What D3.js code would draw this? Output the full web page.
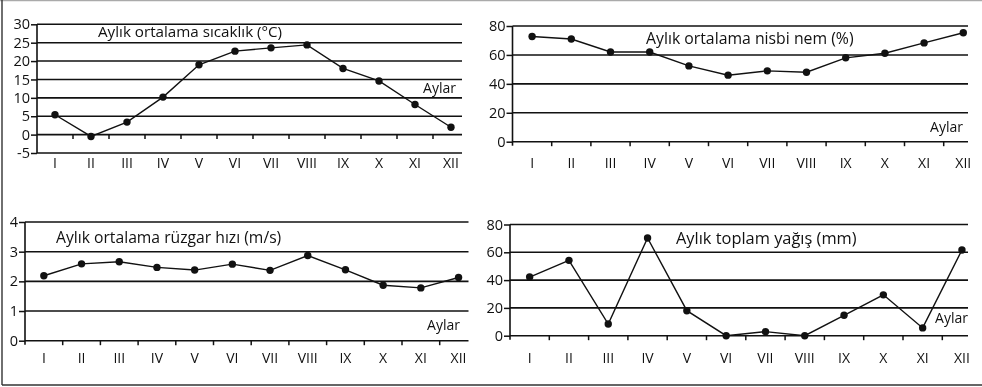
<!DOCTYPE html>
<html>
<head>
<meta charset="utf-8">
<script src="https://cdn.jsdelivr.net/npm/d3@7"></script>
<style>
  body { margin: 0; background: #fff; }
  svg { will-change: transform; }
  svg text { font-family: "Open Sans", "Noto Sans", sans-serif; fill: #111; }
</style>
</head>
<body>
<div id="chart"></div>
<script>
/* data */
var months = ["I", "II", "III", "IV", "V", "VI", "VII", "VIII", "IX", "X", "XI", "XII"];

var sicaklik = [5.4, -0.5, 3.4, 10.2, 19, 22.7, 23.6, 24.4, 18, 14.6, 8.2, 2.0];
var nem = [72.7, 71, 62, 62, 52.4, 46, 49, 48, 58, 61.2, 68.3, 75.3];
var ruzgar = [2.19, 2.59, 2.66, 2.47, 2.38, 2.58, 2.37, 2.87, 2.39, 1.87, 1.78, 2.13];
var yagis = [42.2, 54.2, 8.4, 70.3, 18, 0, 2.9, 0, 14.7, 29.4, 5.6, 61.7];

var sicaklikTicks = [-5, 0, 5, 10, 15, 20, 25, 30];
var nemTicks = [0, 20, 40, 60, 80];
var ruzgarTicks = [0, 1, 2, 3, 4];
var yagisTicks = [0, 20, 40, 60, 80];

var titles = ["Aylık ortalama sıcaklık (°C)", "Aylık ortalama nisbi nem (%)",
  "Aylık ortalama rüzgar hızı (m/s)", "Aylık toplam yağış (mm)"];
var xLabel = "Aylar";

var width = 982, height = 387;

// panel layout (pixel boxes only)
var panels = [
  { values: sicaklik, ticks: sicaklikTicks, domain: [-5, 30], title: titles[0],
    x0: 37, band: 36, xEnd: 462, yTop: 24.3, yBottom: 153, monthY: 163,
    titleX: 98, titleY: 37, titleSize: 15.2, aylarX: 456, aylarY: 93 },
  { values: nem, ticks: nemTicks, domain: [0, 80], title: titles[1],
    x0: 512.5, band: 39.2, xEnd: 968, yTop: 26, yBottom: 141.7, monthY: 163,
    titleX: 646, titleY: 44, titleSize: 15.8, aylarX: 963, aylarY: 132 },
  { values: ruzgar, ticks: ruzgarTicks, domain: [0, 4], title: titles[2],
    x0: 25, band: 37.7, xEnd: 468.5, yTop: 222, yBottom: 340.7, monthY: 358,
    titleX: 56, titleY: 243, titleSize: 15.7, aylarX: 460, aylarY: 330 },
  { values: yagis, ticks: yagisTicks, domain: [0, 80], title: titles[3],
    x0: 510, band: 39.3, xEnd: 968, yTop: 224.5, yBottom: 335.7, monthY: 358,
    titleX: 676, titleY: 244, titleSize: 16.4, aylarX: 968, aylarY: 323 }
];

var ink = "#111";

var svg = d3.select("#chart").append("svg")
  .attr("width", width).attr("height", height);

// outer frame
svg.append("line").attr("x1", 0).attr("x2", width).attr("y1", 0.5).attr("y2", 0.5)
  .attr("stroke", "#aaa").attr("stroke-width", 1.5);
svg.append("line").attr("x1", 2).attr("x2", 2).attr("y1", 0).attr("y2", 385)
  .attr("stroke", "#333").attr("stroke-width", 1.4);
svg.append("line").attr("x1", 2).attr("x2", width).attr("y1", 385).attr("y2", 385)
  .attr("stroke", "#333").attr("stroke-width", 1.6);

var fmt = d => d < 0 ? "-" + Math.abs(d) : String(d);

panels.forEach(function(p) {
  var g = svg.append("g");

  var x = d3.scaleBand().domain(months)
    .range([p.x0, p.x0 + p.band * months.length]);
  var y = d3.scaleLinear().domain(p.domain).range([p.yBottom, p.yTop]);

  // gridlines
  g.selectAll(".grid").data(p.ticks).enter().append("line")
    .attr("x1", p.x0).attr("x2", p.xEnd)
    .attr("y1", d => y(d)).attr("y2", d => y(d))
    .attr("stroke", ink).attr("stroke-width", 1.6);

  // y axis
  var yAxis = d3.axisLeft(y).tickValues(p.ticks).tickFormat(fmt).tickSize(6).tickPadding(1);
  var ya = g.append("g").attr("transform", "translate(" + p.x0 + ",0)").call(yAxis);
  ya.select(".domain").remove();
  ya.selectAll(".tick line").attr("stroke", ink).attr("stroke-width", 1.5);
  ya.selectAll(".tick text").style("font-size", "14.5px")
    .style("font-family", "'Open Sans', sans-serif");
  var bottomExt = p.domain[0] < 0 ? 0 : 4;
  g.append("line").attr("x1", p.x0).attr("x2", p.x0)
    .attr("y1", p.yTop).attr("y2", Math.max(y(0) + bottomExt, p.yBottom))
    .attr("stroke", ink).attr("stroke-width", 1.6);

  // month ticks on the zero line
  g.selectAll(".mt").data(months.slice(1)).enter().append("line")
    .attr("x1", d => x(d)).attr("x2", d => x(d))
    .attr("y1", y(0)).attr("y2", y(0) + 4.5)
    .attr("stroke", ink).attr("stroke-width", 1.5);

  // month labels
  g.selectAll(".ml").data(months).enter().append("text")
    .attr("x", d => x(d) + x.bandwidth() / 2)
    .attr("y", p.monthY + 5)
    .attr("text-anchor", "middle")
    .style("font-size", "14px")
    .text(d => d);

  // line + dots
  var line = d3.line()
    .x((d, i) => x(months[i]) + x.bandwidth() / 2)
    .y(d => y(d));
  g.append("path").datum(p.values)
    .attr("d", line).attr("fill", "none")
    .attr("stroke", ink).attr("stroke-width", 1.4);
  g.selectAll(".dot").data(p.values).enter().append("circle")
    .attr("cx", (d, i) => x(months[i]) + x.bandwidth() / 2)
    .attr("cy", d => y(d))
    .attr("r", 3.7).attr("fill", ink);

  // titles
  g.append("text").attr("x", p.titleX).attr("y", p.titleY)
    .style("font-size", p.titleSize + "px").text(p.title);
  g.append("text").attr("x", p.aylarX).attr("y", p.aylarY)
    .attr("text-anchor", "end")
    .style("font-size", "14px").text(xLabel);
});
</script>
</body>
</html>
